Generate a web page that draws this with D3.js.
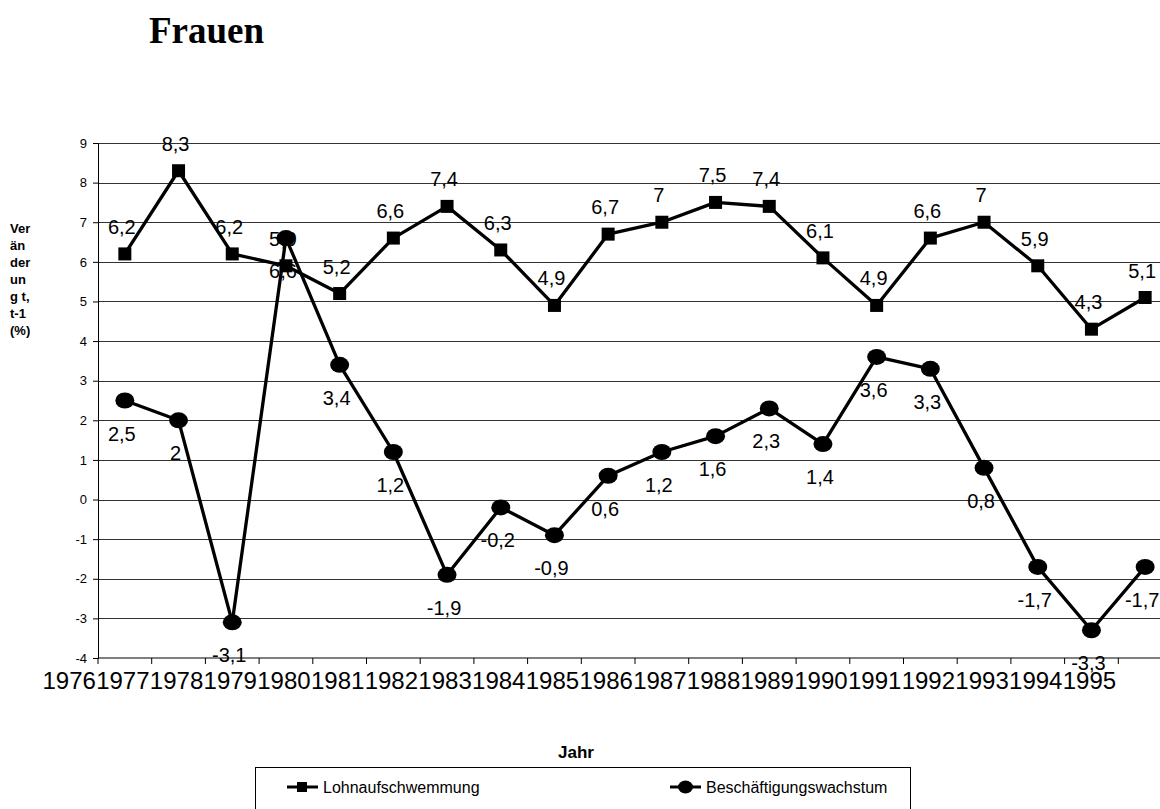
<!DOCTYPE html>
<html>
<head>
<meta charset="utf-8">
<script src="https://cdn.jsdelivr.net/npm/d3@7"></script>
<style>
  body { margin: 0; background: #fff; overflow: hidden; }
  svg { display: block; font-family: 'Liberation Sans', Arial, sans-serif; }
</style>
</head>
<body>
<div id="chart"></div>
<script>
const years = ['1976', '1977', '1978', '1979', '1980', '1981', '1982', '1983', '1984', '1985',
  '1986', '1987', '1988', '1989', '1990', '1991', '1992', '1993', '1994', '1995']
const lohn = [6.2, 8.3, 6.2, 5.9, 5.2, 6.6, 7.4, 6.3, 4.9, 6.7, 7, 7.5, 7.4, 6.1, 4.9, 6.6, 7, 5.9, 4.3, 5.1]
const besch = [2.5, 2, -3.1, 6.6, 3.4, 1.2, -1.9, -0.2, -0.9, 0.6, 1.2, 1.6, 2.3, 1.4, 3.6, 3.3, 0.8, -1.7, -3.3, -1.7]
const yTicks = [-4, -3, -2, -1, 0, 1, 2, 3, 4, 5, 6, 7, 8, 9]
const seriesNames = ['Lohnaufschwemmung', 'Beschäftigungswachstum']
const yLabelLines = ['Ver', 'än', 'der', 'un', 'g t,', 't-1', '(%)']

const width = 1160
const height = 809
const plotLeft = 98
const plotRight = 1172
const plotTop = 143
const plotBottom = 658

const svg = d3.select('#chart').append('svg')
  .attr('width', width)
  .attr('height', height)

const x = d3.scaleBand().domain(years).range([plotLeft, plotRight]).padding(0)
const y = d3.scaleLinear().domain([-4, 9]).range([plotBottom, plotTop])
const cx = d => x(d) + x.bandwidth() / 2
const fmt = v => String(v).replace('.', ',')

// --- title ---
svg.append('text')
  .attr('x', 149).attr('y', 43)
  .style('font-family', "'Liberation Serif', 'Times New Roman', serif")
  .style('font-weight', 'bold')
  .style('font-size', '37px')
  .text('Frauen')

// --- gridlines ---
svg.append('g')
  .selectAll('line')
  .data(yTicks.filter(t => t > -4))
  .join('line')
    .attr('x1', plotLeft).attr('x2', plotRight)
    .attr('y1', d => Math.round(y(d)) + 0.5).attr('y2', d => Math.round(y(d)) + 0.5)
    .attr('stroke', '#333')
    .attr('stroke-width', 1)

// --- axes ---
const yAxis = svg.append('g')
  .attr('transform', `translate(${plotLeft},0)`)
  .call(d3.axisLeft(y).tickValues(yTicks).tickSize(5).tickPadding(6).tickFormat(d => d))
yAxis.select('.domain').attr('stroke', '#000')
yAxis.selectAll('text').style('font-size', '13px').attr('fill', '#000')

const xAxis = svg.append('g')
  .attr('transform', `translate(0,${plotBottom})`)
xAxis.append('line')
  .attr('x1', plotLeft).attr('x2', plotRight)
  .attr('stroke', '#000')
xAxis.selectAll('line.tick')
  .data(years)
  .join('line')
    .attr('class', 'tick')
    .attr('x1', d => x(d)).attr('x2', d => x(d))
    .attr('y1', 0).attr('y2', 6)
    .attr('stroke', '#000')

// year labels run one band to the left of their points, as in the original
svg.append('g')
  .selectAll('text')
  .data(years)
  .join('text')
    .attr('x', d => cx(d) - x.bandwidth() - 2)
    .attr('y', 689)
    .attr('text-anchor', 'middle')
    .style('font-size', '24px')
    .text(d => d)

// --- axis titles ---
svg.append('g')
  .selectAll('text')
  .data(yLabelLines)
  .join('text')
    .attr('x', 10)
    .attr('y', (d, i) => 233 + i * 17)
    .style('font-size', '13px')
    .style('font-weight', 'bold')
    .text(d => d)

svg.append('text')
  .attr('x', 576).attr('y', 758)
  .attr('text-anchor', 'middle')
  .style('font-size', '17px')
  .style('font-weight', 'bold')
  .text('Jahr')

// --- series ---
const line = d3.line()
  .x((d, i) => cx(years[i]))
  .y(d => y(d))

function drawSeries(values, marker, labelDx, labelDy) {
  const g = svg.append('g')
  g.append('path')
    .datum(values)
    .attr('d', line)
    .attr('fill', 'none')
    .attr('stroke', '#000')
    .attr('stroke-width', 3.3)
    .attr('stroke-linejoin', 'round')

  if (marker === 'square') {
    g.selectAll('rect')
      .data(values)
      .join('rect')
        .attr('x', (d, i) => cx(years[i]) - 6.5)
        .attr('y', d => y(d) - 6.5)
        .attr('width', 13).attr('height', 13)
        .attr('fill', '#000')
  } else {
    g.selectAll('ellipse')
      .data(values)
      .join('ellipse')
        .attr('cx', (d, i) => cx(years[i]))
        .attr('cy', d => y(d))
        .attr('rx', 9.5).attr('ry', 8)
        .attr('fill', '#000')
  }

  g.selectAll('text')
    .data(values)
    .join('text')
      .attr('x', (d, i) => cx(years[i]) + labelDx)
      .attr('y', d => y(d) + labelDy)
      .attr('text-anchor', 'middle')
      .attr('dominant-baseline', 'central')
      .style('font-size', '20px')
      .text(d => fmt(d))
}

drawSeries(lohn, 'square', -3, -27)
drawSeries(besch, 'circle', -3, 33)

// --- legend ---
const legend = svg.append('g')
legend.append('rect')
  .attr('x', 255.5).attr('y', 767.5)
  .attr('width', 655).attr('height', 60)
  .attr('fill', '#fff')
  .attr('stroke', '#000')

const legendItems = legend.selectAll('g')
  .data(seriesNames)
  .join('g')
    .attr('transform', (d, i) => `translate(${287 + i * 383},787)`)
legendItems.append('line')
  .attr('x1', 0).attr('x2', 31)
  .attr('stroke', '#000').attr('stroke-width', 3)
legendItems.each(function(d, i) {
  const item = d3.select(this)
  if (i === 0) {
    item.append('rect').attr('x', 10).attr('y', -5).attr('width', 10).attr('height', 10)
  } else {
    item.append('ellipse').attr('cx', 15.5).attr('cy', 0).attr('rx', 7.5).attr('ry', 6.5)
  }
})
legendItems.append('text')
  .attr('x', 36)
  .attr('dominant-baseline', 'central')
  .style('font-size', '16px')
  .text(d => d)
</script>
</body>
</html>
